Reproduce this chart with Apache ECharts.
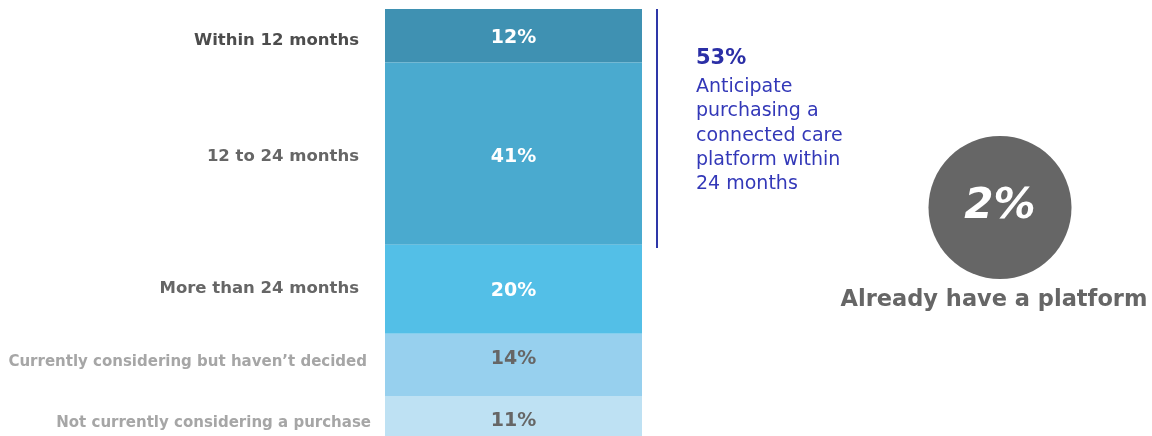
<!DOCTYPE html>
<html><head><meta charset="utf-8">
<script src="https://cdn.jsdelivr.net/npm/echarts@6/dist/echarts.min.js"></script>
<style>html,body{margin:0;padding:0;background:#fff}#c{width:1152px;height:436px}</style>
</head><body><div id="c"></div>
<script>
const categories = ['Within 12 months','12 to 24 months','More than 24 months','Currently considering but haven\u2019t decided','Not currently considering a purchase'];
const values = [12, 41, 20, 14, 11];
const alreadyHave = 2;
const calloutText = 'Anticipate\npurchasing a\nconnected care\nplatform within\n24 months';
const platformText = 'Already have a platform';

const segColors = ['#3F91B2','#4AAACF','#53BFE7','#97D0EE','#BEE1F3'];
const valueLabelColors = ['#fff','#fff','#fff','#666','#666'];
const nameColors = ['#4D4D4D','#666666','#666666','#A6A6A6','#A6A6A6'];
const nameDistance = [26,26,26,18,14];
const nameNudge = [5,3,-1,-3,3];
const valueNudge = [2,3,2,-6,1];
const FONT = '"DejaVu Sans", sans-serif';

const chart = echarts.init(document.getElementById('c'), null, {renderer:'canvas'});
const series = [];
values.forEach((v,i)=>{
  series.push({
    type:'bar', stack:'a', name:categories[i], data:[v], barWidth:'100%', barGap:'-100%',
    itemStyle:{color:segColors[i]},
    label:{show:true, position:'inside', offset:[0,valueNudge[i]], formatter:p=>p.value+'%', color:valueLabelColors[i],
      fontFamily:FONT, fontWeight:'bold', fontSize:19}
  });
});
values.forEach((v,i)=>{
  series.push({
    type:'bar', stack:'b', name:categories[i]+'_n', data:[v], barWidth:'100%', barGap:'-100%',
    itemStyle:{color:'rgba(0,0,0,0)'}, silent:true,
    label:{show:true, position:'left', distance:nameDistance[i], offset:[0,nameNudge[i]], formatter:()=>categories[i],
      color:nameColors[i], fontFamily:FONT, fontWeight:'bold', fontSize:i<3?16.5:15}
  });
});
const total = values.reduce((a,b)=>a+b,0);
const within24 = values[0]+values[1];
series.push({
  type:'pie', radius:[0,71.5], center:[1000,207.5], silent:true,
  data:[{value:alreadyHave, name:platformText}],
  itemStyle:{color:'#666666'},
  label:{show:true, position:'center', formatter:p=>p.value+'%', color:'#fff',
    fontFamily:FONT, fontWeight:'bold', fontStyle:'italic', fontSize:42},
  labelLine:{show:false}
});

chart.setOption({
  animation:false,
  grid:{left:385, width:257, top:9, height:436, outerBoundsMode:'none', containLabel:false},
  xAxis:{type:'category', data:['all'], show:false},
  yAxis:{type:'value', inverse:true, min:0, max:total, show:false},
  series:series,
  graphic:[
    {type:'line', shape:{x1:657,y1:9,x2:657,y2:248}, style:{stroke:'#2E37A8', lineWidth:2}},
    {type:'text', left:696, top:48, style:{text:within24+'%', fill:'#2B2FA6', font:'bold 21px '+FONT}},
    {type:'text', left:696, top:75, style:{text:calloutText, fill:'#3338B8', font:'19px '+FONT, lineHeight:24.3}},
    {type:'text', x:994, y:300, style:{text:platformText, fill:'#666666', font:'bold 22.5px '+FONT, align:'center', verticalAlign:'middle'}}
  ]
});
</script></body></html>
